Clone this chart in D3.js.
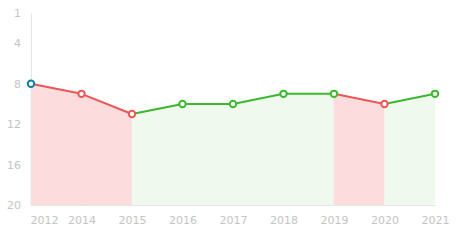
<!DOCTYPE html>
<html><head><meta charset="utf-8">
<script src="https://cdn.jsdelivr.net/npm/d3@7"></script>
<style>html,body{margin:0;padding:0;background:#fff;}svg{display:block;}</style>
</head><body>
<div id="chart"></div>
<script>
const categories = ["2012","2014","2015","2016","2017","2018","2019","2020","2021"];
const values = [8, 9, 11, 10, 10, 9, 9, 10, 9];
const yTicks = [1, 4, 8, 12, 16, 20];

const W = 464, H = 246;
const x0 = 31, x1 = 435, yTop = 13, yBot = 205;
const svg = d3.select("#chart").append("svg").attr("width", W).attr("height", H);

const x = d3.scalePoint().domain(categories).range([x0, x1]);
const y = d3.scaleLinear().domain([1, 20]).range([yTop, yBot]);

const RED = "#eb5656", GREEN = "#3bb82c", BLUE = "#0f7ea6";
const RED_F = "#fcdcdd", GREEN_F = "#f0f9ee";

const pts = categories.map((c, i) => ({c, v: values[i]}));
const segs = [];
for (let i = 1; i < pts.length; i++) {
  segs.push({a: pts[i-1], b: pts[i], up: pts[i].v > pts[i-1].v});
}

// fills
const area = d3.area().x(d => x(d.c)).y0(y(20)).y1(d => y(d.v));
svg.append("g").selectAll("path").data(segs).join("path")
  .attr("d", s => area([s.a, s.b]))
  .attr("fill", s => s.up ? RED_F : GREEN_F)
  .attr("stroke", s => s.up ? RED_F : GREEN_F)
  .attr("stroke-width", 0.6);

// axes
const gy = svg.append("g").attr("transform", `translate(${x0},0)`)
  .call(d3.axisLeft(y).tickValues(yTicks).tickSize(0).tickPadding(10).tickFormat(d3.format("d")));
gy.select(".domain").attr("stroke", "#e6e6e6");
gy.selectAll("text").attr("fill", "#c4c4c4").style("font-family", "DejaVu Sans, Verdana, sans-serif").style("font-size", "11px");

const gx = svg.append("g").attr("transform", `translate(0,${yBot})`)
  .call(d3.axisBottom(x).tickSize(0).tickPadding(11));
gx.select(".domain").attr("stroke", "#e6e6e6").attr("d", `M${x0},0.5H${x1+1}`);
gx.selectAll("text").attr("fill", "#c4c4c4").style("font-family", "DejaVu Sans, Verdana, sans-serif").style("font-size", "11px")
  .attr("text-anchor", (d, i) => i === 0 ? "start" : "middle")
  .attr("dx", (d, i) => i === 0 ? "-1" : "0");

// lines
const line = d3.line().x(d => x(d.c)).y(d => y(d.v));
svg.append("g").selectAll("path").data(segs).join("path")
  .attr("d", s => line([s.a, s.b]))
  .attr("fill", "none")
  .attr("stroke", s => s.up ? RED : GREEN)
  .attr("stroke-width", 2);

// markers
svg.append("g").selectAll("circle").data(pts).join("circle")
  .attr("cx", d => x(d.c)).attr("cy", d => y(d.v)).attr("r", 3.2)
  .attr("fill", "#fff").attr("stroke-width", 2)
  .attr("stroke", (d, i) => i === 0 ? BLUE : (segs[i-1].up ? RED : GREEN));
</script>
</body></html>
